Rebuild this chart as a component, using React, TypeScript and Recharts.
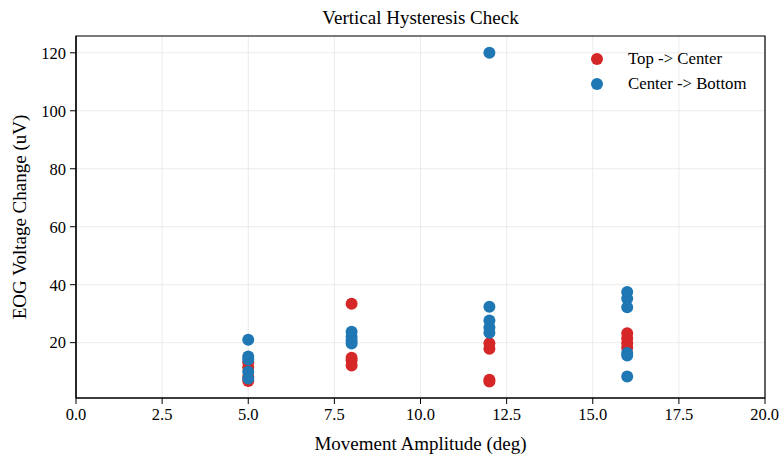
import React from "react";
import {
  ScatterChart,
  Scatter,
  XAxis,
  YAxis,
  CartesianGrid,
  ReferenceArea,
} from "recharts";

const amplitudes = [5, 8, 12, 16];
const topToCenter = [
  [13.2, 11.4, 8.2, 6.8],
  [33.4, 14.8, 13.8, 12.1],
  [19.8, 17.9, 7.2, 6.6],
  [23.2, 21.5, 19.8, 18.2],
];
const centerToBottom = [
  [21.0, 15.2, 14.2, 10.0, 7.6],
  [23.8, 22.0, 20.7, 19.7],
  [120.0, 32.4, 27.6, 25.2, 23.4],
  [37.5, 35.2, 32.2, 16.4, 15.6, 8.3],
];
const xTicks = [0, 2.5, 5, 7.5, 10, 12.5, 15, 17.5, 20];
const yTicks = [20, 40, 60, 80, 100, 120];

const RED = "#d62728";
const BLUE = "#1f77b4";
const FONT = "'Liberation Serif', 'DejaVu Serif', serif";
const X_DOMAIN = [0, 20];
const Y_DOMAIN = [0.9, 125.8];

const toPoints = (groups: number[][]) =>
  groups.flatMap((vals, i) => vals.map((v) => ({ x: amplitudes[i], y: v })));

const topData = toPoints(topToCenter);
const bottomData = toPoints(centerToBottom);

const dot = (color: string) => (p: any) =>
  <circle cx={p.cx} cy={p.cy} r={6} fill={color} />;

const legendItems = [
  { label: "Top -> Center", color: RED },
  { label: "Center -> Bottom", color: BLUE },
];

const LegendBox = () => (
  <div
    style={{
      position: "absolute",
      left: 591,
      top: 46,
      fontFamily: FONT,
      fontSize: 16.8,
      color: "#000",
    }}
  >
    {legendItems.map((it) => (
      <div key={it.label} style={{ display: "flex", alignItems: "center", height: 25 }}>
        <span
          style={{
            width: 12,
            height: 12,
            borderRadius: 6,
            background: it.color,
            display: "inline-block",
            marginRight: 25,
          }}
        />
        <span>{it.label}</span>
      </div>
    ))}
  </div>
);

const tickStyle = { fill: "#000", fontFamily: FONT, fontSize: 16.5, style: { fontFamily: FONT } };
const labelStyle = { fill: "#000", fontFamily: FONT, fontSize: 19 };

export default function App() {
  return (
    <div style={{ position: "absolute", left: 0, top: 0, width: 779, height: 454, background: "#fff" }}>
      <div
        style={{
          position: "absolute",
          left: 76,
          width: 689,
          top: 7,
          textAlign: "center",
          fontFamily: FONT,
          fontSize: 19,
          color: "#000",
        }}
      >
        Vertical Hysteresis Check
      </div>
      <ScatterChart width={779} height={454} margin={{ top: 36, right: 14, bottom: 0, left: 0 }}>
        <CartesianGrid stroke="#e6e6e6" strokeWidth={0.8} vertical horizontal />
        <XAxis
          type="number"
          dataKey="x"
          domain={X_DOMAIN}
          ticks={xTicks}
          tickFormatter={(v: number) => v.toFixed(1)}
          height={56}
          tickSize={6}
          tickMargin={4}
          tickLine={{ stroke: "#000" }}
          axisLine={{ stroke: "#000", strokeWidth: 1.2 }}
          tick={tickStyle}
          allowDataOverflow
          label={{
            value: "Movement Amplitude (deg)",
            position: "insideBottom",
            offset: 4,
            style: labelStyle,
          }}
        />
        <YAxis
          type="number"
          dataKey="y"
          domain={Y_DOMAIN}
          ticks={yTicks}
          width={76}
          tickSize={6}
          tickMargin={4}
          tickLine={{ stroke: "#000" }}
          axisLine={{ stroke: "#000", strokeWidth: 1.2 }}
          tick={tickStyle}
          allowDataOverflow
          label={{
            value: "EOG Voltage Change (uV)",
            angle: -90,
            position: "insideLeft",
            offset: 19,
            style: { ...labelStyle, textAnchor: "middle" },
          }}
        />
        <ReferenceArea
          x1={X_DOMAIN[0]}
          x2={X_DOMAIN[1]}
          y1={Y_DOMAIN[0]}
          y2={Y_DOMAIN[1]}
          fill="none"
          stroke="#000"
          strokeWidth={1.2}
          ifOverflow="visible"
        />
        <Scatter name="Top -> Center" data={topData} fill={RED} shape={dot(RED)} isAnimationActive={false} />
        <Scatter name="Center -> Bottom" data={bottomData} fill={BLUE} shape={dot(BLUE)} isAnimationActive={false} />
      </ScatterChart>
      <LegendBox />
    </div>
  );
}
